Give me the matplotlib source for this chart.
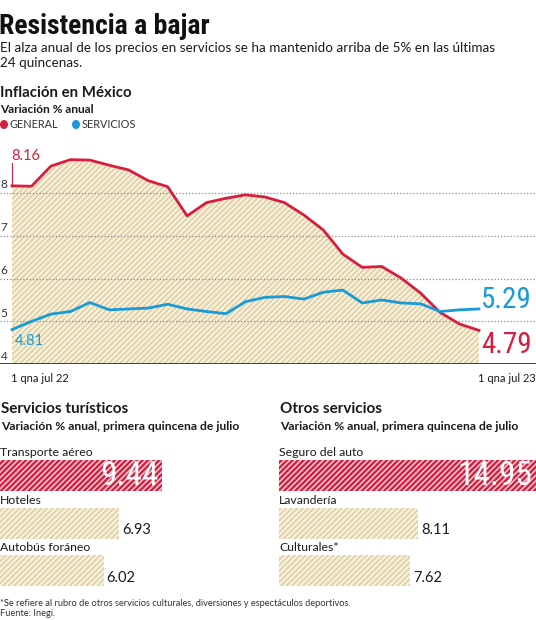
import matplotlib
matplotlib.use("Agg")
import matplotlib.pyplot as plt
from matplotlib import font_manager
from matplotlib.patches import Circle
import matplotlib.transforms as mtransforms

# ---------------- data ----------------
general = [8.16, 8.15, 8.62, 8.77, 8.76, 8.64, 8.53, 8.28, 8.14, 7.46, 7.77, 7.87, 7.95,
           7.90, 7.77, 7.48, 7.13, 6.57, 6.26, 6.28, 6.01, 5.66, 5.21, 4.94, 4.79]
servicios = [4.81, 5.00, 5.17, 5.23, 5.44, 5.27, 5.29, 5.31, 5.40, 5.29, 5.23, 5.18, 5.46,
             5.56, 5.58, 5.52, 5.68, 5.73, 5.43, 5.50, 5.43, 5.41, 5.23, 5.27, 5.29]
y_ticks = [4, 5, 6, 7, 8]
x_labels = ["1 qna jul 22", "1 qna jul 23"]

tur_cats = ["Transporte aéreo", "Hoteles", "Autobús foráneo"]
tur_vals = [9.44, 6.93, 6.02]
otros_cats = ["Seguro del auto", "Lavandería", "Culturales*"]
otros_vals = [14.95, 8.11, 7.62]

# ---------------- style ----------------
names = {f.name for f in font_manager.fontManager.ttflist}
COND = next((n for n in ["Roboto Condensed", "Liberation Sans Narrow", "DejaVu Sans Condensed"] if n in names), "DejaVu Sans")
BODY = next((n for n in ["Lato", "Open Sans", "Noto Sans"] if n in names), "DejaVu Sans")
plt.rcParams['font.family'] = [BODY, 'DejaVu Sans']
plt.rcParams['hatch.linewidth'] = 1.0

RED = '#d81e3e'
BLUE = '#1a9ad6'
BEIGE = '#f6efd9'
BEIGE_H = '#d9c999'
TXT = '#1a1a1a'
HATCH = '//////'

W, H = 536, 620
fig = plt.figure(figsize=(W / 100, H / 100), dpi=100)
fig.patch.set_facecolor('white')


def T(px, py, s, **kw):
    kw.setdefault('color', TXT)
    return fig.text(px / W, 1 - py / H, s, **kw)


def hatch_lw(artists, lw):
    for p in artists:
        if hasattr(p, 'set_hatch_linewidth'):
            p.set_hatch_linewidth(lw)


# ---------------- header ----------------
T(-1, 34, "Resistencia a bajar", fontsize=20, family=COND, fontweight='bold', va='baseline',
  color='#111111')
T(0, 52, "El alza anual de los precios en servicios se ha mantenido arriba de 5% en las últimas",
  fontsize=9.75, va='baseline')
T(0, 67, "24 quincenas.", fontsize=9.75, va='baseline')
T(0, 97, "Inflación en México", fontsize=10.8, fontweight='bold', va='baseline')
T(0, 113, "Variación % anual", fontsize=8.6, fontweight='bold', va='baseline')
fig.add_artist(Circle((4 / W, 1 - 124.5 / H), 3.3 / W, transform=fig.transFigure, color=RED))
T(10, 128.5, "GENERAL", fontsize=7.8, va='baseline', color='#333333')
fig.add_artist(Circle((76 / W, 1 - 124.5 / H), 3.3 / W, transform=fig.transFigure, color=BLUE))
T(82, 128.5, "SERVICIOS", fontsize=7.8, va='baseline', color='#333333')

# ---------------- line chart ----------------
px_unit = 42.9
y_base = 364.3
top_px = 140
ax = fig.add_axes([0, 1 - y_base / H, 1, (y_base - top_px) / H])
step = (479 - 12) / (len(general) - 1)
ax.set_xlim(-12 / step, (len(general) - 1) + (536 - 479) / step)
ax.set_ylim(4, 4 + (y_base - top_px) / px_unit)
ax.axis('off')
x = list(range(len(general)))

ax.fill_between(x, 4, general, facecolor=BEIGE, edgecolor='none', zorder=1)
h = ax.fill_between(x, 4, general, facecolor='none', edgecolor=BEIGE_H, hatch=HATCH, linewidth=0,
                    zorder=1.1)
hatch_lw([h], 0.9)

for v in y_ticks[1:]:
    ax.axhline(v, color='#8c8c8c', lw=0.9, ls=(0, (1, 1.6)), zorder=2)
ax.axhline(4, color='#333333', lw=1.3, zorder=5)

off = mtransforms.offset_copy(ax.transData, fig=fig, x=0, y=2.5, units='dots')
for v in y_ticks:
    ax.text(-12 / step + 0.04, v, str(v), transform=off, fontsize=8.5, color='#333333',
            va='bottom', ha='left')

ax.plot(x, general, color=RED, lw=2.0, zorder=4, solid_joinstyle='round')
ax.plot(x, servicios, color=BLUE, lw=2.0, zorder=4, solid_joinstyle='round')

# annotations
ax.plot([0, 0], [general[0], 4 + (y_base - 163) / px_unit], color=RED, lw=0.8, zorder=4)
T(11, 160, f"{general[0]:.2f}", fontsize=10.5, color=RED, va='baseline')
T(15, 345, f"{servicios[0]:.2f}", fontsize=10.5, color=BLUE, va='baseline')
T(481, 308, f"{servicios[-1]:.2f}", fontsize=21, family=COND, color=BLUE, va='baseline')
T(481, 353, f"{general[-1]:.2f}", fontsize=21, family=COND, color=RED, va='baseline')

T(11, 382, x_labels[0], fontsize=8, va='baseline')
T(536, 382, x_labels[1], fontsize=8, va='baseline', ha='right')


# ---------------- bar panels ----------------
def panel(left_px, right_px, title, cats, vals, unit_px=17.2):
    T(left_px + 1, 413, title, fontsize=11, fontweight='bold', va='baseline')
    T(left_px + 1, 430, "Variación % anual, primera quincena de julio", fontsize=8.7,
      fontweight='bold', va='baseline')
    top, bot = 440, 600
    spacing, c0 = 47.5, 475.5
    a = fig.add_axes([left_px / W, 1 - bot / H, (right_px - left_px) / W, (bot - top) / H])
    a.set_xlim(0, (right_px - left_px) / unit_px)
    a.set_ylim((bot - c0) / spacing, (top - c0) / spacing)
    a.axis('off')
    a.patch.set_alpha(0)
    hgt = 31 / spacing
    for i, (c, v) in enumerate(zip(cats, vals)):
        first = i == 0
        fc = RED if first else BEIGE
        hc = '#f7d3da' if first else BEIGE_H
        a.barh(i, v, height=hgt, color=fc, edgecolor='none', zorder=1)
        bars = a.barh(i, v, height=hgt, color='none', edgecolor=hc, hatch=HATCH, linewidth=0,
                      zorder=1.1)
        hatch_lw(bars.patches, 1.1 if first else 0.9)
        a.text(0.02, i - hgt / 2 - 0.04, c, fontsize=8.8, va='bottom', ha='left', color=TXT)
        if first:
            a.text(v - 4 / unit_px, i + 0.02, f"{v:.2f}", fontsize=24, family=COND, color='white',
                   va='center', ha='right', zorder=3)
        else:
            a.text(v + 3 / unit_px, i + hgt / 2 - 0.09, f"{v:.2f}", fontsize=10.5, color=TXT,
                   va='baseline', ha='left')


panel(0, 266, "Servicios turísticos", tur_cats, tur_vals)
panel(279, 536, "Otros servicios", otros_cats, otros_vals)

T(0, 606, "*Se refiere al rubro de otros servicios culturales, diversiones y espectáculos deportivos.",
  fontsize=6.65, va='baseline', color='#333333')
T(0, 616, "Fuente: Inegi.", fontsize=6.65, va='baseline', color='#333333')

fig.savefig("out.png", dpi=100, facecolor='white')
